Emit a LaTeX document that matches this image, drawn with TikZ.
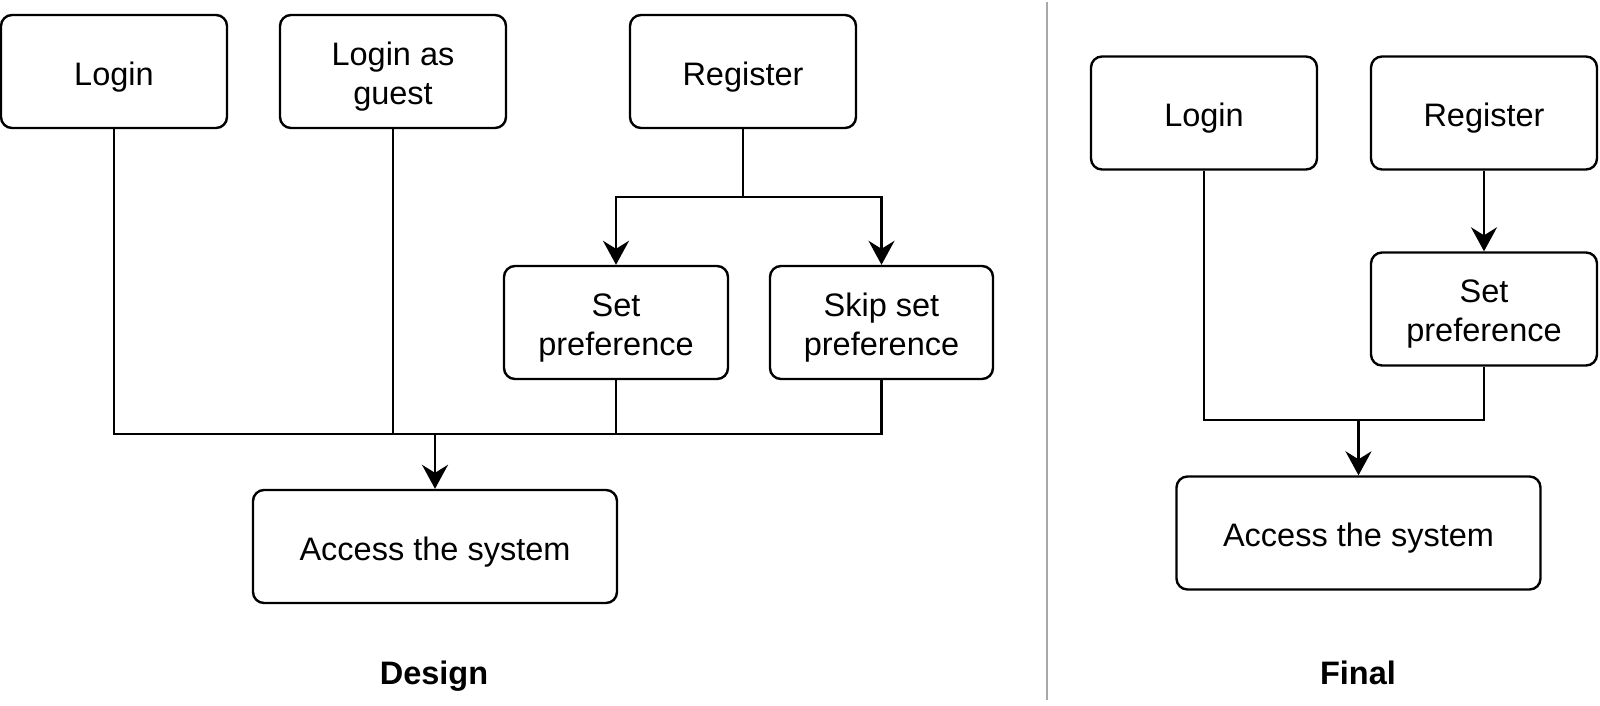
\documentclass[tikz,border=0pt]{standalone}
\usepackage{fontspec}
\setmainfont{Liberation Sans}
\usetikzlibrary{arrows.meta}
\definecolor{divgray}{RGB}{168,168,168}
\tikzset{
  box/.style={draw=black, line width=2.4pt, rounded corners=11pt, fill=white,
    minimum width=226pt, minimum height=113pt, inner sep=0pt},
  wide/.style={box, minimum width=364pt},
  lbl/.style={inner sep=0pt, align=center, yshift=-5.5pt,
    font=\fontsize{32.5}{39}\selectfont},
  conn/.style={draw=black, line width=2.4pt},
  arr/.style={conn, -{Stealth[length=24pt,width=26pt,inset=8pt]}},
  title/.style={font=\fontsize{32.5}{39}\selectfont\bfseries, anchor=base, inner sep=0pt}
}
\begin{document}
\begin{tikzpicture}[x=1pt,y=-1pt]
\useasboundingbox (0,0) rectangle (1600,705);
% divider
\draw[divgray, line width=2pt] (1047,2) -- (1047,700);
% ---------- Design ----------
\node[box, label={[lbl]center:Login}] (loginA) at (114,71.5) {};
\node[box, label={[lbl]center:Login as\\guest}] (guestA) at (393,71.5) {};
\node[box, label={[lbl]center:Register}] (regA) at (743,71.5) {};
\node[box, minimum width=224pt, label={[lbl]center:Set\\preference}] (setA) at (616,322.5) {};
\node[box, minimum width=223pt, label={[lbl]center:Skip set\\preference}] (skipA) at (881.5,322.5) {};
\node[wide, label={[lbl]center:Access the system}] (accA) at (435,546.5) {};
\node[title] (designT) at (434,684) {Design};
\coordinate (bA) at (743,197);
\coordinate (jA) at (435,434);
\draw[conn] (regA.south) -- (bA);
\draw[arr] (bA) -| (setA.north);
\draw[arr] (bA) -| (skipA.north);
\draw[conn] (loginA.south) -- (loginA.south |- jA) -- (skipA.south |- jA) -- (skipA.south);
\draw[conn] (guestA.south) -- (guestA.south |- jA);
\draw[conn] (setA.south) -- (setA.south |- jA);
\draw[arr] (jA) -- (accA.north);
% ---------- Final ----------
\node[box, label={[lbl]center:Login}] (loginB) at (1204,113) {};
\node[box, label={[lbl]center:Register}] (regB) at (1484,113) {};
\node[box, label={[lbl]center:Set\\preference}] (setB) at (1484,309) {};
\node[wide, label={[lbl]center:Access the system}] (accB) at (1358.5,533) {};
\node[title] (finalT) at (1358,684) {Final};
\coordinate (jB) at (1358.5,420);
\draw[arr] (regB.south) -- (setB.north);
\draw[conn] (loginB.south) -- (loginB.south |- jB) -- (setB.south |- jB) -- (setB.south);
\draw[arr] (jB) -- (accB.north);
\end{tikzpicture}
\end{document}
